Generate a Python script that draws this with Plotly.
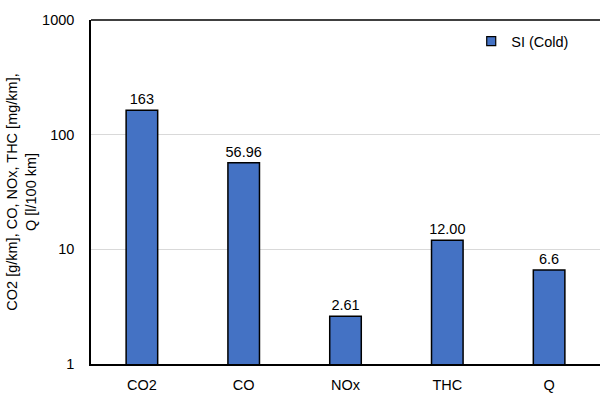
import plotly.graph_objects as go

categories = ["CO2", "CO", "NOx", "THC", "Q"]
values = [163, 56.96, 2.61, 12.00, 6.6]
value_labels = ["163", "56.96", "2.61", "12.00", "6.6"]
series_name = "SI (Cold)"
y_ticks = [1, 10, 100, 1000]
y_tick_labels = ["1", "10", "100", "1000"]

font = "Liberation Sans, Arial, sans-serif"
bar_color = "#4472C4"

fig = go.Figure()
fig.add_trace(go.Bar(
    x=categories,
    y=values,
    name=series_name,
    text=value_labels,
    textposition="outside",
    constraintext="none",
    textfont=dict(size=14.5, color="#000000", family=font),
    cliponaxis=False,
    marker=dict(color=bar_color, line=dict(color="#000000", width=1.5)),
    width=0.31,
    showlegend=False,
    legendgroup="si",
))

# Legend entry with a small square swatch
fig.add_trace(go.Scatter(
    x=[None], y=[None],
    mode="markers",
    name=series_name,
    legendgroup="si",
    marker=dict(symbol="square", size=9, color=bar_color,
                line=dict(color="#000000", width=1.2)),
    showlegend=True,
))

fig.update_layout(
    width=600,
    height=394,
    margin=dict(l=91, r=0, t=20, b=30),
    paper_bgcolor="white",
    plot_bgcolor="white",
    font=dict(family=font, size=14.5, color="#000000"),
    showlegend=True,
    legend=dict(
        x=0.747, y=0.985, xanchor="left", yanchor="top",
        bgcolor="rgba(0,0,0,0)",
        font=dict(size=14.5, family=font),
        itemwidth=30,
    ),
)

fig.update_xaxes(
    showline=True, linecolor="#000000", linewidth=1.5,
    mirror=False, showgrid=False, ticks="",
    ticklabelstandoff=7,
    tickfont=dict(size=14.5, family=font),
)
fig.update_yaxes(
    type="log",
    range=[0, 3],
    tickvals=y_ticks,
    ticktext=y_tick_labels,
    showline=True, linecolor="#000000", linewidth=1.5,
    showgrid=True, gridcolor="#d9d9d9", gridwidth=1,
    ticks="", ticklen=0,
    ticklabelstandoff=12,
    tickfont=dict(size=14.5, family=font),
    title=dict(
        text="CO2 [g/km], CO, NOx, THC [mg/km],<br>Q [l/100 km]",
        font=dict(size=14.5, family=font),
        standoff=2,
    ),
)

# Top border line across the plot area
fig.add_shape(
    type="line", xref="paper", yref="paper",
    x0=0, x1=1, y0=1, y1=1,
    line=dict(color="#000000", width=1.5),
)

fig.write_html("out.html")
